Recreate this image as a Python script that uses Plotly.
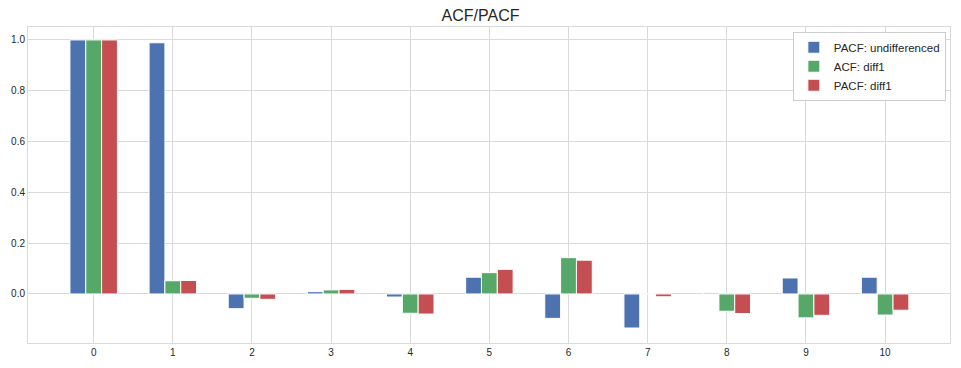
import plotly.graph_objects as go

lags = [0, 1, 2, 3, 4, 5, 6, 7, 8, 9, 10]
pacf_undiff = [1.0, 0.989, -0.058, 0.009, -0.012, 0.066, -0.096, -0.134, 0.004, 0.063, 0.066]
acf_diff1 = [1.0, 0.052, -0.017, 0.016, -0.076, 0.084, 0.143, 0.001, -0.068, -0.094, -0.083]
pacf_diff1 = [1.0, 0.053, -0.021, 0.018, -0.079, 0.097, 0.133, -0.011, -0.077, -0.084, -0.064]
y_ticks = [0.0, 0.2, 0.4, 0.6, 0.8, 1.0]

series = [
    ("PACF: undifferenced", pacf_undiff, "#4C72B0"),
    ("ACF: diff1", acf_diff1, "#55A868"),
    ("PACF: diff1", pacf_diff1, "#C44E52"),
]

fig = go.Figure()
for name, vals, color in series:
    fig.add_trace(go.Bar(
        x=lags, y=vals, name=name,
        marker=dict(color=color, line=dict(color="white", width=1)),
    ))

grid = "#dadada"
font_fam = "Liberation Sans, Arial, sans-serif"
fig.update_layout(
    width=961, height=368,
    margin=dict(l=28, r=11, t=27, b=25),
    paper_bgcolor="white", plot_bgcolor="white",
    barmode="group", bargap=0.4, bargroupgap=0,
    font=dict(family=font_fam, size=10, color="#262626"),
    title=dict(text="ACF/PACF", x=0.5, xanchor="center", y=0.958, yanchor="middle",
               font=dict(size=16, color="#262626", family=font_fam)),
    legend=dict(x=0.9955, y=0.985, xanchor="right", yanchor="top",
                bgcolor="white", bordercolor="#cccccc", borderwidth=1,
                font=dict(size=11.5, color="#262626"), tracegroupgap=0,
                itemwidth=30),
    showlegend=True,
)
fig.update_xaxes(
    range=[-0.83, 10.82], tickmode="array", tickvals=lags,
    ticktext=[str(v) for v in lags], automargin=False,
    showgrid=True, gridcolor=grid, gridwidth=1,
    showline=True, linecolor=grid, mirror=True, zeroline=False, ticks="",
)
fig.update_yaxes(
    range=[-0.193, 1.051], tickmode="array", tickvals=y_ticks,
    ticktext=[f"{v:.1f}" for v in y_ticks], automargin=False,
    showgrid=True, gridcolor=grid, gridwidth=1,
    showline=True, linecolor=grid, mirror=True, zeroline=False, ticks="",
)

fig.write_html("out.html", config={"displayModeBar": False},
               post_script="document.body.style.margin='0';")
